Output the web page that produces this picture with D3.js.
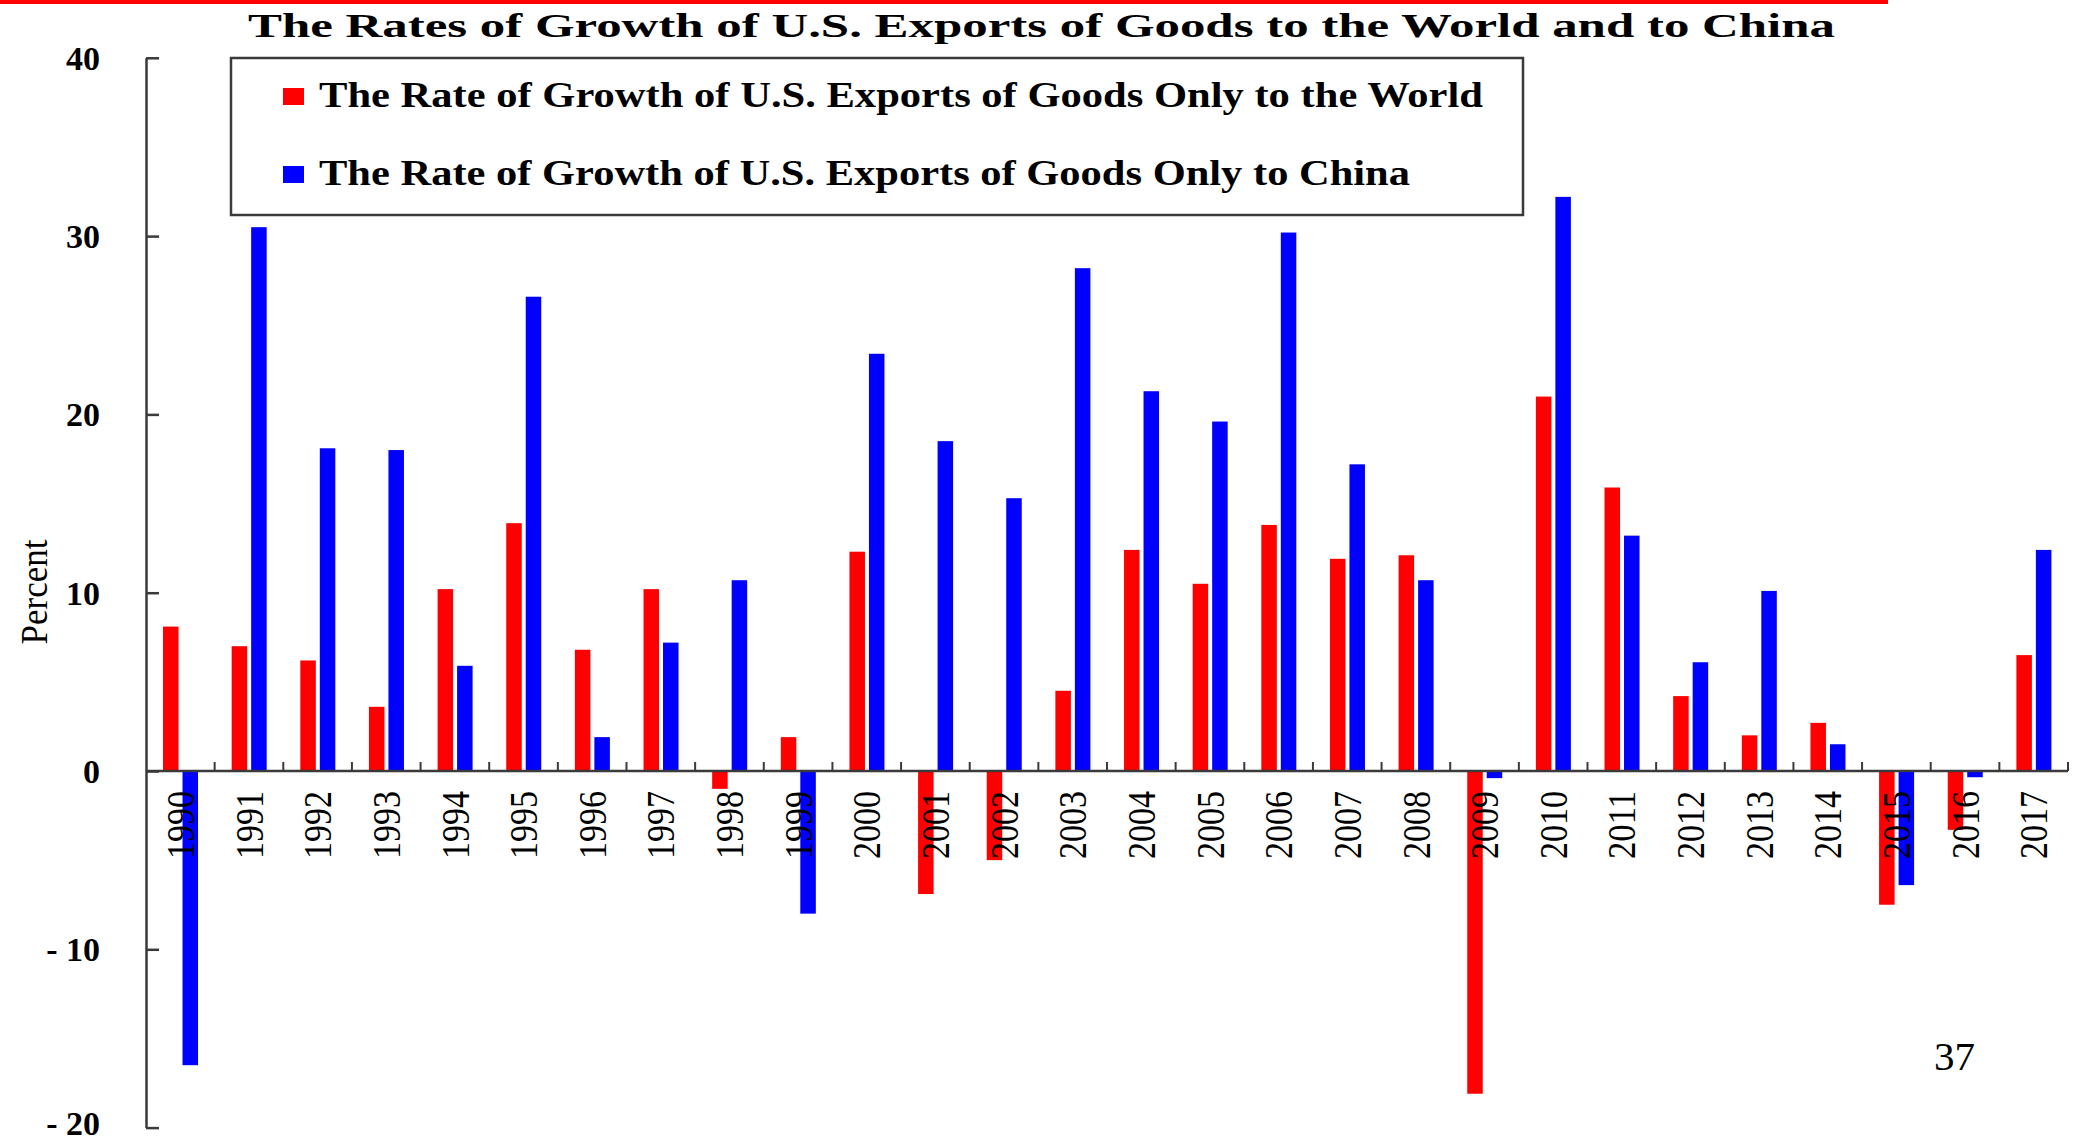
<!DOCTYPE html>
<html>
<head>
<meta charset="utf-8">
<script src="https://cdn.jsdelivr.net/npm/d3@7"></script>
<style>
  html, body { margin: 0; padding: 0; background: #ffffff; }
  svg { display: block; }
</style>
</head>
<body>
<script>
// ---------- data ----------
const years = ["1990","1991","1992","1993","1994","1995","1996","1997","1998","1999",
               "2000","2001","2002","2003","2004","2005","2006","2007","2008","2009",
               "2010","2011","2012","2013","2014","2015","2016","2017"];
const worldGrowth = [8.1, 7.0, 6.2, 3.6, 10.2, 13.9, 6.8, 10.2, -1.0, 1.9,
                     12.3, -6.9, -5.0, 4.5, 12.4, 10.5, 13.8, 11.9, 12.1, -18.1,
                     21.0, 15.9, 4.2, 2.0, 2.7, -7.5, -3.3, 6.5];
const chinaGrowth = [-16.5, 30.5, 18.1, 18.0, 5.9, 26.6, 1.9, 7.2, 10.7, -8.0,
                     23.4, 18.5, 15.3, 28.2, 21.3, 19.6, 30.2, 17.2, 10.7, -0.4,
                     32.2, 13.2, 6.1, 10.1, 1.5, -6.4, -0.35, 12.4];
const yTicks = [-20, -10, 0, 10, 20, 30, 40];
const seriesNames = ["The Rate of Growth of U.S. Exports of Goods Only to the World",
                     "The Rate of Growth of U.S. Exports of Goods Only to China"];
const seriesColors = ["#ff0000", "#0000ff"];
const titleText = "The Rates of Growth of U.S. Exports of Goods to the World and to China";
const yLabel = "Percent";
const pageNumber = "37";

// ---------- setup ----------
const W = 2073, H = 1142;
const serif = "'Liberation Serif', 'Times New Roman', serif";
const svg = d3.select("body").append("svg").attr("width", W).attr("height", H);
svg.append("rect").attr("width", W).attr("height", H).attr("fill", "#fff");

const x = d3.scaleBand().domain(years).range([146, 2068]).paddingInner(0).paddingOuter(0);
const y = d3.scaleLinear().domain([-20, 40]).range([1127.6, 57.8]);
const bw = x.bandwidth();

// top red rule
svg.append("rect").attr("x", 0).attr("y", 0).attr("width", 1888).attr("height", 4).attr("fill", "#ff0000");

// title
svg.append("text")
  .attr("x", 248).attr("y", 37)
  .attr("font-family", serif).attr("font-weight", "bold").attr("font-size", 34)
  .attr("textLength", 1587).attr("lengthAdjust", "spacingAndGlyphs")
  .attr("fill", "#000")
  .text(titleText);

// bars
const rows = years.map((yr, i) => ({ year: yr, vals: [worldGrowth[i], chinaGrowth[i]] }));
const offsets = [0.248, 0.532];
const barW = 0.226 * bw;
const g = svg.append("g");
rows.forEach(r => {
  r.vals.forEach((v, k) => {
    g.append("rect")
      .attr("x", x(r.year) + offsets[k] * bw)
      .attr("y", y(Math.max(0, v)))
      .attr("width", barW)
      .attr("height", Math.abs(y(v) - y(0)))
      .attr("fill", seriesColors[k]);
  });
});

// y axis
const yAxis = d3.axisLeft(y).tickValues(yTicks).tickSizeInner(-13).tickSizeOuter(0).tickPadding(46)
  .tickFormat(d => d < 0 ? "- " + Math.abs(d) : String(d));
const ya = svg.append("g").attr("transform", "translate(146,0)").call(yAxis);
ya.select(".domain").attr("stroke", "#3a3a3a").attr("stroke-width", 2.5);
ya.selectAll(".tick line").attr("stroke", "#3a3a3a").attr("stroke-width", 2.5);
ya.selectAll(".tick text")
  .attr("font-family", serif).attr("font-weight", "bold").attr("font-size", 34)
  .attr("fill", "#000").attr("dy", d => d === -20 ? "0.2em" : "0.34em");

// x axis line at zero with upward ticks at band boundaries
const y0 = y(0);
svg.append("line").attr("x1", 146).attr("x2", 2068).attr("y1", y0).attr("y2", y0)
  .attr("stroke", "#3a3a3a").attr("stroke-width", 2.5);
const bounds = years.map(d => x(d) + bw);
svg.append("g").selectAll("line").data(bounds).join("line")
  .attr("x1", d => d).attr("x2", d => d)
  .attr("y1", y0).attr("y2", y0 - 9)
  .attr("stroke", "#3a3a3a").attr("stroke-width", 2);

// x labels (rotated)
svg.append("g").selectAll("text").data(years).join("text")
  .attr("transform", d => `translate(${x(d) + bw / 2},${y0 + 20}) rotate(-90)`)
  .attr("text-anchor", "end").attr("dy", "0.34em")
  .attr("font-family", serif).attr("font-size", 40)
  .attr("textLength", 68).attr("lengthAdjust", "spacingAndGlyphs")
  .attr("fill", "#000")
  .text(d => d);

// y label
svg.append("text")
  .attr("transform", "translate(47,592) rotate(-90)")
  .attr("text-anchor", "middle")
  .attr("font-family", serif).attr("font-size", 38)
  .attr("textLength", 105).attr("lengthAdjust", "spacingAndGlyphs")
  .attr("fill", "#000")
  .text(yLabel);

// legend
const lg = svg.append("g");
lg.append("rect").attr("x", 231).attr("y", 58).attr("width", 1292).attr("height", 157)
  .attr("fill", "#fff").attr("stroke", "#3a3a3a").attr("stroke-width", 2.5);
const legY = [107, 185];
const legLen = [1164, 1091];
seriesNames.forEach((name, k) => {
  lg.append("rect").attr("x", 283).attr("y", legY[k] - 19).attr("width", 21).attr("height", 17)
    .attr("fill", seriesColors[k]);
  lg.append("text").attr("x", 319).attr("y", legY[k])
    .attr("font-family", serif).attr("font-weight", "bold").attr("font-size", 35)
    .attr("textLength", legLen[k]).attr("lengthAdjust", "spacingAndGlyphs")
    .attr("fill", "#000")
    .text(name);
});

// page number
svg.append("text").attr("x", 1934).attr("y", 1070)
  .attr("font-family", serif).attr("font-size", 41).attr("fill", "#000")
  .text(pageNumber);
</script>
</body>
</html>
